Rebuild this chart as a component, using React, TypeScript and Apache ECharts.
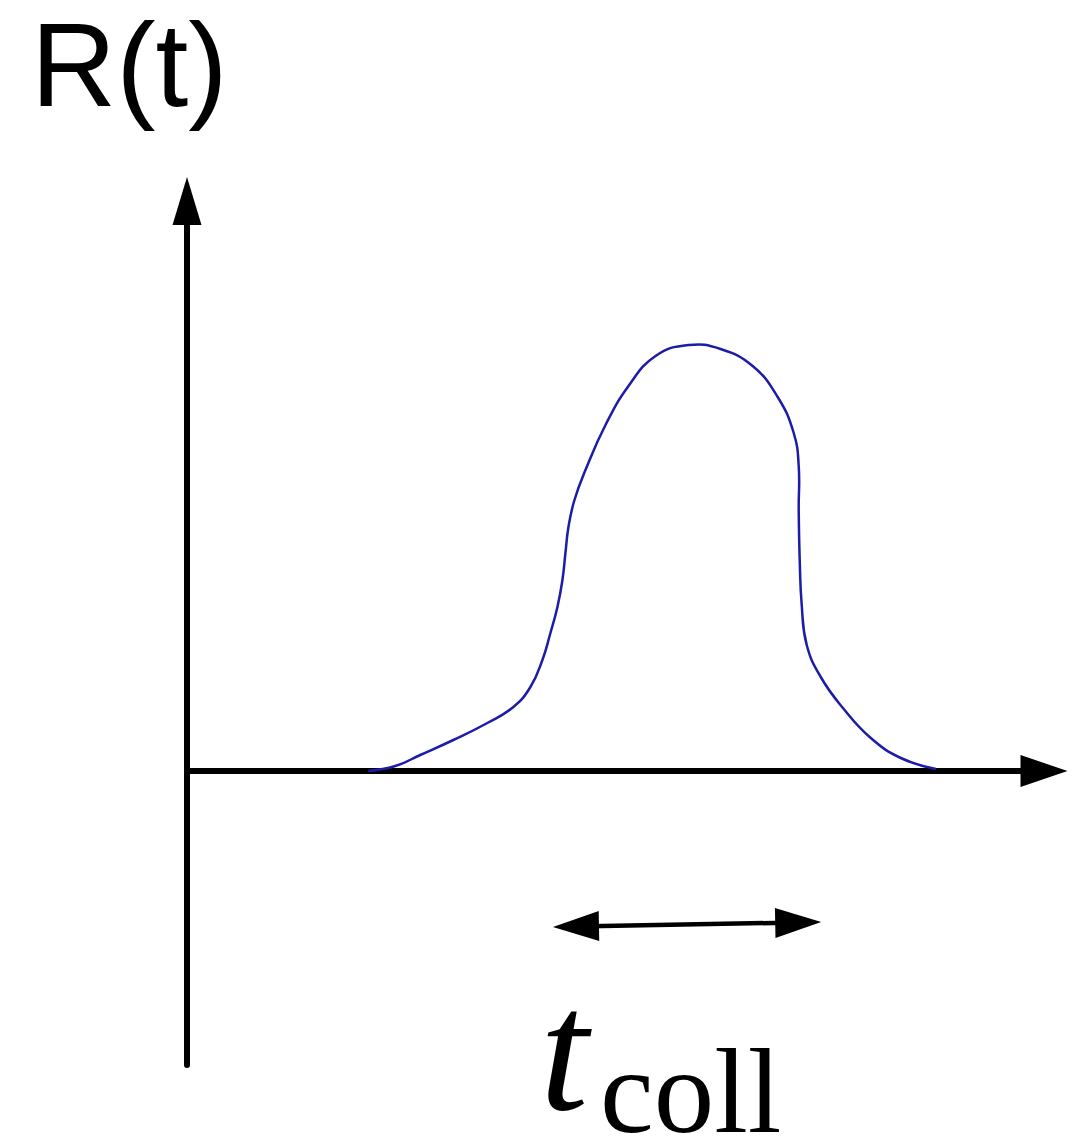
import React, { useEffect, useRef } from "react";
import * as echarts from "echarts";

// Curve R(t) (units: pixels from the origin of the axes)
const tValues = [181, 208, 233, 266, 300, 326, 343, 355, 363, 370, 375, 378, 381, 387, 398, 418, 441, 468, 501, 533, 565, 590, 606, 611, 611, 612, 614, 619, 633, 656, 683, 713, 748];
const rValues = [0, 5, 16, 31, 48, 64, 84, 111, 138, 164, 191, 218, 244, 271, 301, 346, 385, 415, 426, 422, 405, 374, 338, 305, 261, 211, 166, 126, 94, 62, 33, 13, 2];

// Axis ranges
const xRange = [0, 856];
const yRange = [-294, 570];

// Collision-time double arrow (start / end in data units)
const collStart = [388.5, -155.5];
const collEnd = [610.5, -151.5];

const yLabel = "R(t)";
const tMain = "t";
const tSub = "coll";

export default function App() {
  const ref = useRef<HTMLDivElement>(null);
  useEffect(() => {
    if (!ref.current) return;
    const chart = echarts.init(ref.current, null, { renderer: "svg" });
    const data = tValues.map((t, i) => [t, rValues[i]]);
    chart.setOption({
      animation: false,
      backgroundColor: "#ffffff",
      grid: { left: 187, right: 43, top: 201, bottom: 75, containLabel: false },
      xAxis: {
        type: "value",
        min: xRange[0],
        max: xRange[1],
        axisLine: {
          onZero: true,
          symbol: ["none", "triangle"],
          symbolSize: [32, 47],
          lineStyle: { color: "#000", width: 6 },
        },
        axisTick: { show: false },
        axisLabel: { show: false },
        splitLine: { show: false },
      },
      yAxis: {
        type: "value",
        min: yRange[0],
        max: yRange[1],
        axisLine: {
          show: true,
          onZero: false,
          symbol: ["none", "triangle"],
          symbolSize: [29, 48],
          lineStyle: { color: "#000", width: 6 },
        },
        axisTick: { show: false },
        axisLabel: { show: false },
        splitLine: { show: false },
      },
      series: [
        {
          type: "custom",
          data,
          silent: true,
          renderItem: (params: any, api: any) => {
            if (params.dataIndex !== 0) return null;
            const pts = data.map((p) => api.coord(p));
            return {
              type: "polyline",
              shape: { points: pts, smooth: 0.45 },
              style: { stroke: "#1c1ca8", lineWidth: 2.5, fill: null },
            };
          },
        },
        {
          type: "line",
          data: [],
          silent: true,
          markLine: {
            silent: true,
            symbol: ["triangle", "triangle"],
            symbolSize: [30, 46],
            label: { show: false },
            lineStyle: { color: "#000", width: 4.5, type: "solid" },
            emphasis: { disabled: true },
            data: [[{ coord: collStart }, { coord: collEnd }]],
          },
        },
      ],
      graphic: [
        {
          type: "text",
          x: 31,
          y: 65,
          style: {
            text: yLabel,
            fontFamily: "Liberation Sans, Arial, sans-serif",
            fontSize: 118,
            fill: "#000",
            textVerticalAlign: "middle",
          },
        },
        {
          type: "text",
          x: 540,
          y: 1050,
          style: {
            text: tMain,
            fontFamily: "Liberation Serif, Times New Roman, serif",
            fontStyle: "italic",
            fontSize: 174,
            lineHeight: 110,
            fill: "#000",
            textVerticalAlign: "middle",
          },
        },
        {
          type: "text",
          x: 600,
          y: 1091,
          style: {
            text: tSub,
            fontFamily: "Liberation Serif, Times New Roman, serif",
            fontSize: 121,
            lineHeight: 88,
            fill: "#000",
            textVerticalAlign: "middle",
          },
        },
      ],
    });
    return () => chart.dispose();
  }, []);
  return (
    <div
      ref={ref}
      style={{ position: "absolute", left: 0, top: 0, width: 1087, height: 1140, background: "#fff" }}
    />
  );
}
